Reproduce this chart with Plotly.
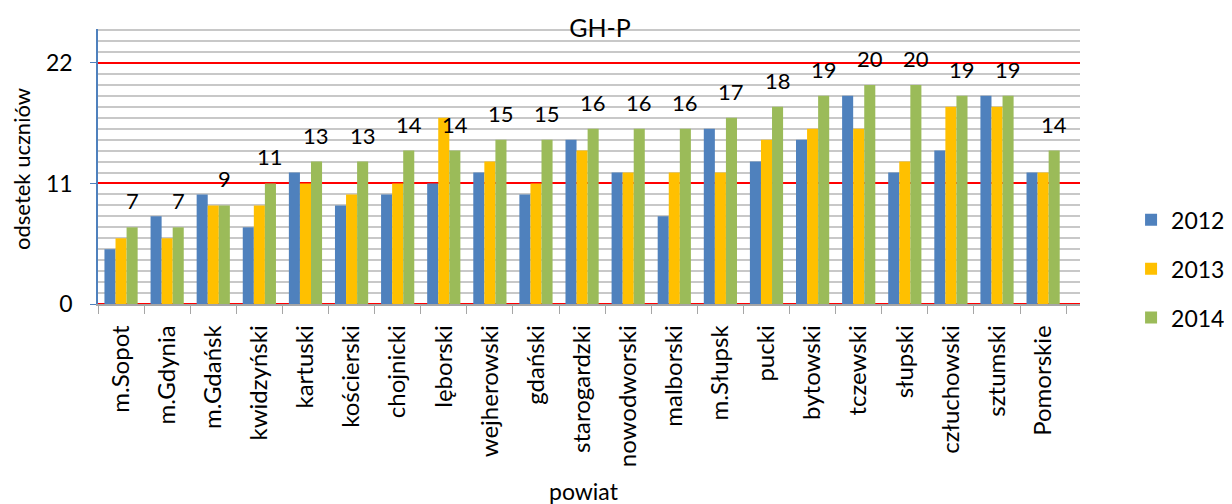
import plotly.graph_objects as go

categories = ["m.Sopot", "m.Gdynia", "m.Gdańsk", "kwidzyński", "kartuski", "kościerski",
              "chojnicki", "lęborski", "wejherowski", "gdański", "starogardzki", "nowodworski",
              "malborski", "m.Słupsk", "pucki", "bytowski", "tczewski", "słupski",
              "człuchowski", "sztumski", "Pomorskie"]
v2012 = [5, 8, 10, 7, 12, 9, 10, 11, 12, 10, 15, 12, 8, 16, 13, 15, 19, 12, 14, 19, 12]
v2013 = [6, 6, 9, 9, 11, 10, 11, 17, 13, 11, 14, 12, 12, 12, 15, 16, 16, 13, 18, 18, 12]
v2014 = [7, 7, 9, 11, 13, 13, 14, 14, 15, 15, 16, 16, 16, 17, 18, 19, 20, 20, 19, 19, 14]
years = ["2012", "2013", "2014"]
colors = ["#4F81BD", "#FFC000", "#9BBB59"]
yticks = [0, 11, 22]

FONT = "Lato, 'Open Sans', sans-serif"

fig = go.Figure()
for name, vals, col in zip(years, [v2012, v2013, v2014], colors):
    fig.add_trace(go.Bar(
        x=categories, y=vals, name=name, legendgroup=name,
        marker=dict(color=col, line=dict(width=0)),
    ))

# page body has an 8px margin, so the figure is 16px smaller than the window
W, H = 1224, 496
L, T = 90, 21
PW, PH = 982, 275
R = W - L - PW
B = H - T - PH

annotations = []
for cat, val in zip(categories, v2014):
    annotations.append(dict(
        x=cat, y=val, text=str(val), showarrow=False,
        xshift=11, yshift=11, yanchor="bottom",
        font=dict(size=22, color="#000000", family=FONT),
    ))
annotations.append(dict(
    x=-0.0774, xref="paper", xanchor="center", y=0.491, yref="paper", yanchor="middle",
    text="odsetek uczniów", textangle=-90, showarrow=False,
    font=dict(size=22, color="#000000", family=FONT),
))
annotations.append(dict(
    x=0.495, xref="paper", xanchor="center", y=-0.68, yref="paper", yanchor="middle",
    text="powiat", showarrow=False,
    font=dict(size=23, color="#000000", family=FONT),
))

fig.update_layout(
    width=W, height=H,
    margin=dict(l=L, r=R, t=T, b=B, autoexpand=False),
    paper_bgcolor="#FFFFFF", plot_bgcolor="#FFFFFF",
    barmode="group", bargap=0.28, bargroupgap=0.0,
    font=dict(family=FONT, size=22, color="#000000"),
    title=dict(text="GH-P", x=592 / W, y=1 - 20 / H, xanchor="center", yanchor="middle",
               font=dict(size=25, family=FONT, color="#000000")),
    legend=dict(x=1.052, xanchor="left", y=0.128, yanchor="middle",
                font=dict(size=23, family=FONT), tracegroupgap=16,
                bgcolor="rgba(0,0,0,0)"),
    annotations=annotations,
    showlegend=True,
)
fig.update_xaxes(
    range=[-0.5, 20.8], tickangle=-90, showline=True, linecolor="#A6A6A6", linewidth=1.5,
    ticks="outside", tickson="boundaries", ticklen=8, tickcolor="#A6A6A6",
    ticklabelstandoff=10,
    showgrid=False, tickfont=dict(size=24, family=FONT), fixedrange=True,
)
fig.update_yaxes(
    range=[0, 25.1], tickvals=yticks, ticktext=[str(t) for t in yticks],
    showline=True, linecolor="#4F81BD", linewidth=1.5,
    ticks="outside", ticklen=6, tickcolor="#4F81BD", ticklabelstandoff=13,
    showgrid=True, gridcolor="#FF0000", gridwidth=2,
    zeroline=True, zerolinecolor="#FF0000", zerolinewidth=2,
    minor=dict(dtick=1, tick0=0, showgrid=True, gridcolor="#C8C8C8", gridwidth=2, ticks=""),
    tickfont=dict(size=23, family=FONT), fixedrange=True,
)

fig.write_html("out.html")
